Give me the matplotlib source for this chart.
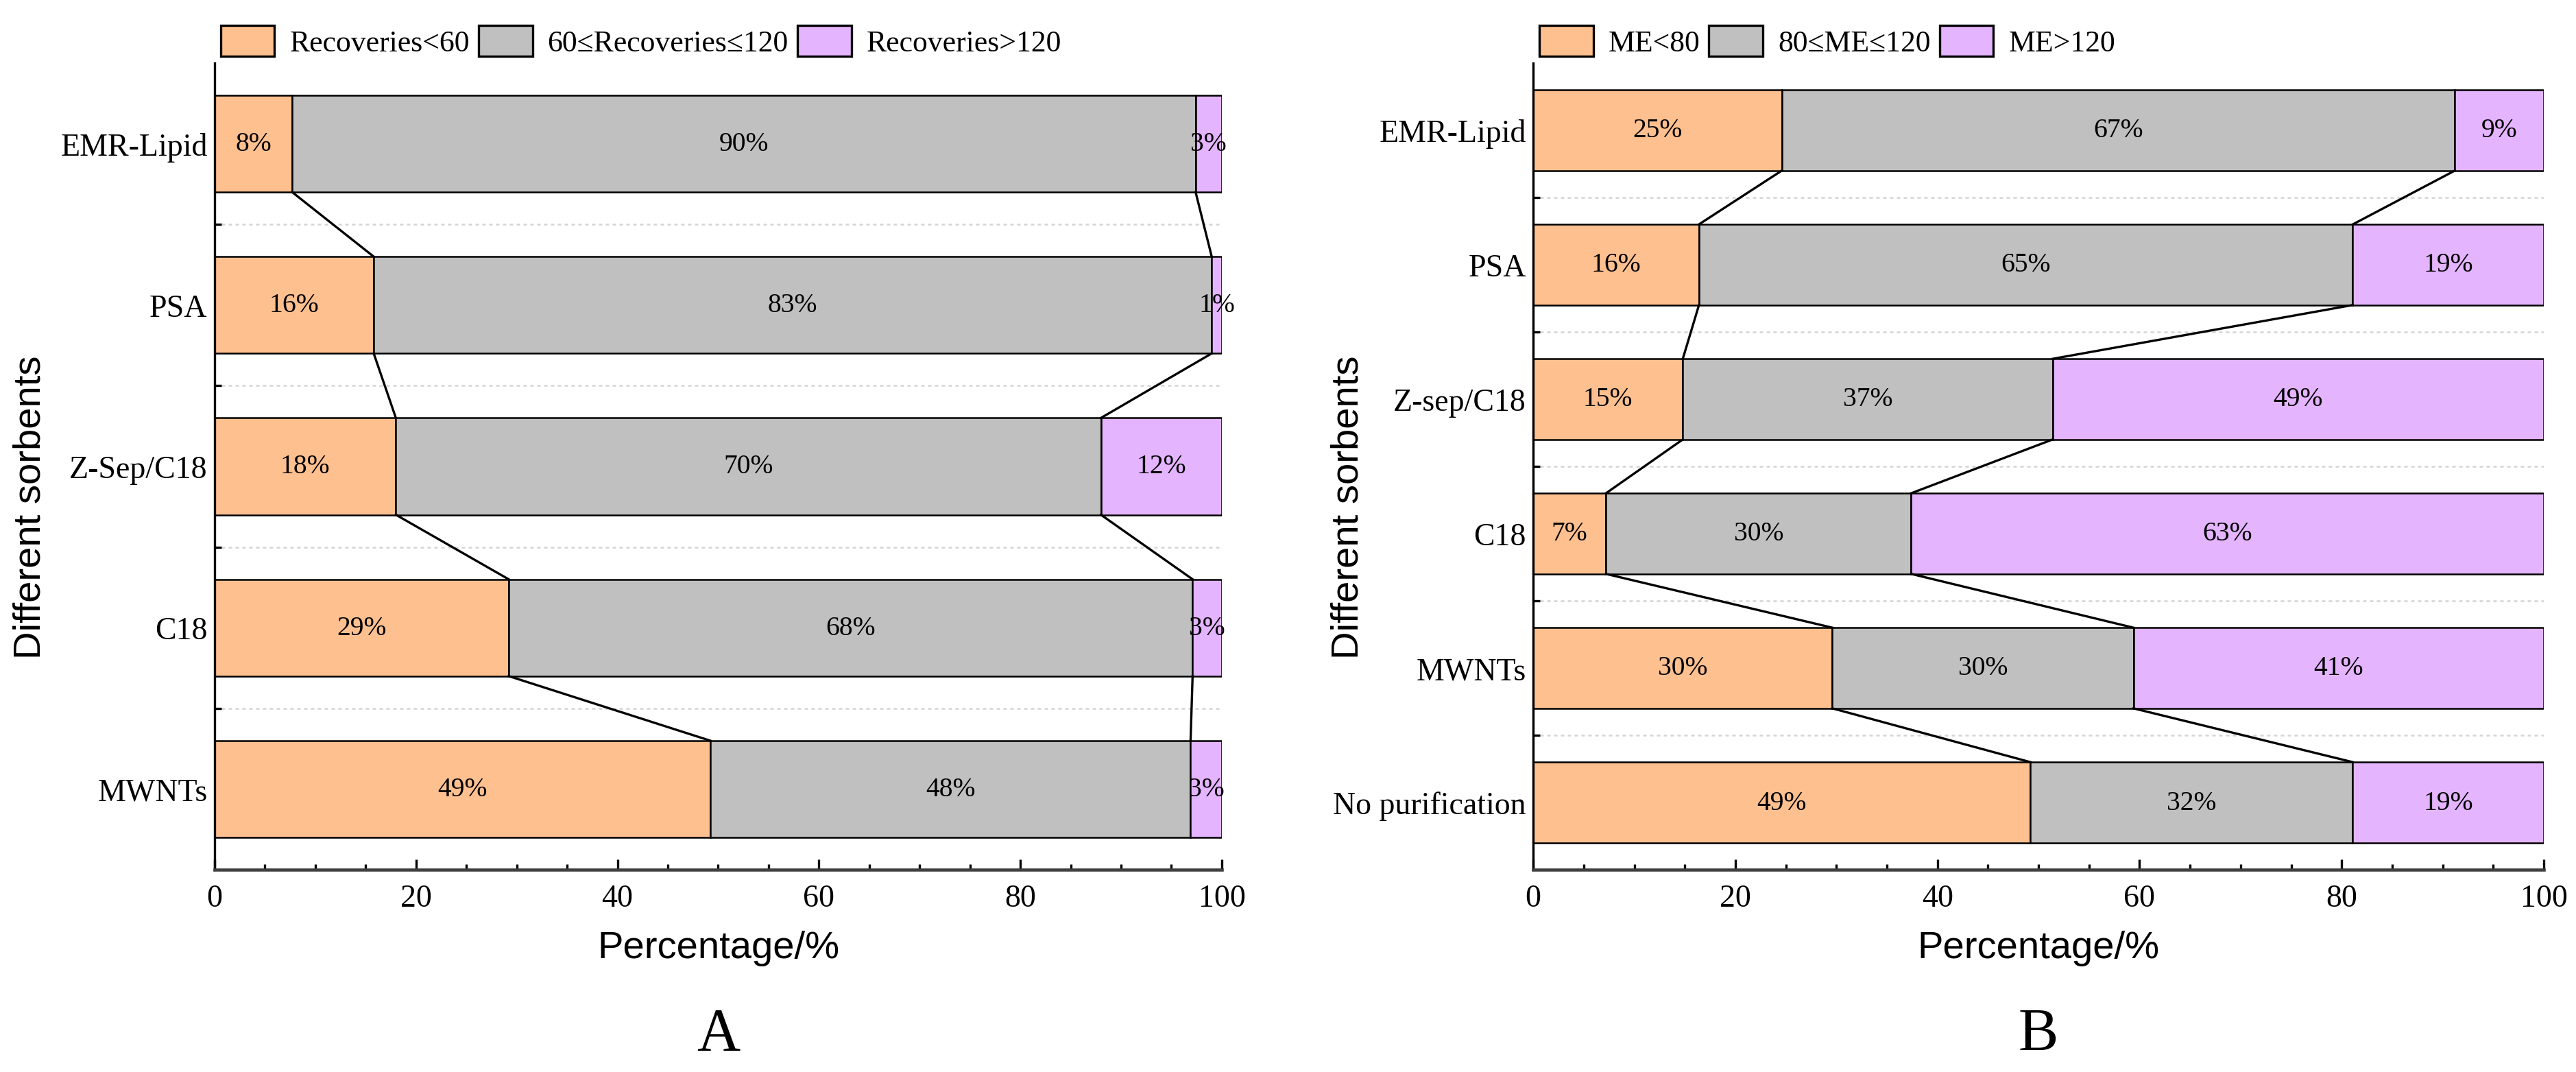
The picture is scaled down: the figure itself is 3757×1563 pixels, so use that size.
import numpy as np
import matplotlib
matplotlib.use("Agg")
import matplotlib.pyplot as plt
from matplotlib.ticker import MultipleLocator, FixedLocator
from matplotlib.patches import Patch

SERIF = ["Liberation Serif", "DejaVu Serif"]
SANS = ["Liberation Sans", "DejaVu Sans"]
plt.rcParams["font.family"] = SERIF

colors = ["#FFC090", "#C0C0C0", "#E4B4FE"]

# Panel A: recoveries
sorbents_a = ["EMR-Lipid", "PSA", "Z-Sep/C18", "C18", "MWNTs"]
low_a = [7.7, 15.8, 18.0, 29.2, 49.2]
mid_a = [89.7, 83.2, 70.0, 67.9, 47.7]
high_a = [2.6, 1.0, 12.0, 2.9, 3.1]
legend_a = ["Recoveries<60", "60≤Recoveries≤120", "Recoveries>120"]

# Panel B: matrix effect
sorbents_b = ["EMR-Lipid", "PSA", "Z-sep/C18", "C18", "MWNTs", "No purification"]
low_b = [24.6, 16.4, 14.8, 7.2, 29.6, 49.2]
mid_b = [66.6, 64.7, 36.6, 30.2, 29.8, 31.9]
high_b = [8.8, 18.9, 48.6, 62.6, 40.6, 18.9]
legend_b = ["ME<80", "80≤ME≤120", "ME>120"]


def draw_panel(ax, cats, series, leg_labels, letter):
    n = len(cats)
    y = np.arange(n)
    h = 0.6
    left = np.zeros(n)
    bounds = []
    for vals, col in zip(series, colors):
        vals = np.array(vals, dtype=float)
        ax.barh(y, vals, height=h, left=left, color=col,
                edgecolor="black", linewidth=0.6, zorder=2)
        for yi, l, v in zip(y, left, vals):
            ax.text(l + v / 2, yi, f"{v:.0f}%", ha="center", va="center",
                    fontsize=9.5, zorder=4, clip_on=False)
        left = left + vals
        bounds.append(left.copy())

    # connector lines between neighbouring bars
    for c in bounds[:2]:
        for i in range(n - 1):
            ax.plot([c[i], c[i + 1]], [i + h / 2, i + 1 - h / 2],
                    color="black", lw=0.8, zorder=3)

    ax.set_xlim(0, 100)
    ax.set_ylim(n - 0.5, -0.5)
    ax.set_yticks(y, cats, fontsize=11)
    ax.yaxis.set_minor_locator(FixedLocator(np.arange(n - 1) + 0.5))
    ax.tick_params(axis="y", which="major", length=0, pad=2.5)
    ax.tick_params(axis="y", which="minor", direction="in", length=2.5, width=0.8)
    ax.grid(axis="y", which="minor", linestyle=(0, (2, 2)), color="#d4d4d4", lw=0.6)
    ax.set_axisbelow(True)

    ax.xaxis.set_major_locator(MultipleLocator(20))
    ax.xaxis.set_minor_locator(MultipleLocator(5))
    ax.tick_params(axis="x", which="major", direction="in", length=3.5, width=0.8,
                   labelsize=11, pad=5)
    ax.tick_params(axis="x", which="minor", direction="in", length=2, width=0.8)

    ax.spines[["top", "right"]].set_visible(False)
    ax.spines["bottom"].set_linewidth(1.1)
    ax.spines["bottom"].set_color("#404040")
    ax.spines["left"].set_linewidth(0.8)

    ax.set_ylabel("Different sorbents", family=SANS, fontsize=13.5)
    ax.yaxis.set_label_coords(-0.165, 0.45)
    ax.set_xlabel("Percentage/%", family=SANS, fontsize=13.5)
    ax.xaxis.set_label_coords(0.5, -0.075)

    handles = [Patch(facecolor=c, edgecolor="black", linewidth=0.8) for c in colors]
    ax.legend(handles, leg_labels, ncol=3, loc="lower left",
              bbox_to_anchor=(0.0, 1.0), borderaxespad=0.1, borderpad=0.1,
              frameon=False, fontsize=10.5, handlelength=1.8, handleheight=1.2,
              handletextpad=0.5, columnspacing=0.3)

    box = ax.get_position()
    ax.figure.text((box.x0 + box.x1) / 2, 0.035, letter, ha="center",
                   va="center", fontsize=21)


fig = plt.figure(figsize=(3757 / 300, 1564 / 300), dpi=300)
fig.patch.set_facecolor("white")
ax_a = fig.add_axes([0.0833, 0.1886, 0.391, 0.752])
ax_b = fig.add_axes([0.5952, 0.1886, 0.3923, 0.752])

draw_panel(ax_a, sorbents_a, [low_a, mid_a, high_a], legend_a, "A")
draw_panel(ax_b, sorbents_b, [low_b, mid_b, high_b], legend_b, "B")

fig.savefig("out.png", dpi=300, facecolor="white")
